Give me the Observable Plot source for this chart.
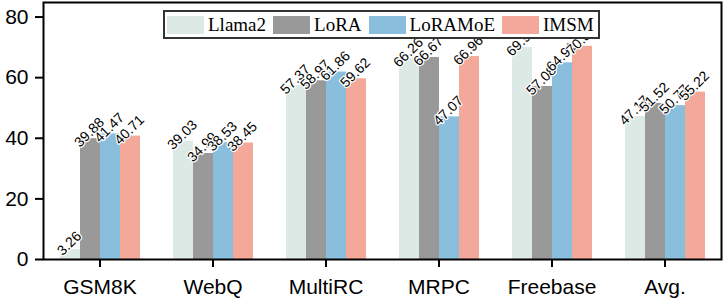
<!DOCTYPE html>
<html>
<head>
<meta charset="utf-8">
<script src="https://cdn.jsdelivr.net/npm/d3@7"></script>
<script src="https://cdn.jsdelivr.net/npm/@observablehq/plot@0.6"></script>
<style>
  html, body { margin: 0; padding: 0; background: #fff; }
  #wrap { position: relative; width: 727px; height: 303px; }
  #legend {
    position: absolute; left: 163px; top: 10px; box-sizing: border-box; height: 29px;
    border: 2.5px solid #333; background: #fff; display: flex; align-items: center;
    padding: 0 4px 0 2px; gap: 7px;
    font-family: "Liberation Serif", serif; font-size: 19px; font-weight: normal; color: #000;
  }
  #legend .item { display: flex; align-items: center; }
  #legend .sw { width: 37px; height: 18px; margin-right: 4px; }
</style>
</head>
<body>
<div id="wrap"></div>
<script>
const categories = ["GSM8K", "WebQ", "MultiRC", "MRPC", "Freebase", "Avg."];
const models = ["Llama2", "LoRA", "LoRAMoE", "IMSM"];
const llama2 = [3.26, 39.03, 57.37, 66.26, 69.94, 47.17];
const lora = [39.88, 34.99, 58.97, 66.67, 57.08, 51.52];
const loramoe = [41.47, 38.53, 61.86, 47.07, 64.91, 50.77];
const imsm = [40.71, 38.45, 59.62, 66.96, 70.37, 55.22];
const colors = ["#dce9e5", "#999999", "#89bfdd", "#f4a899"];
const yTicks = [0, 20, 40, 60, 80];

const series = [llama2, lora, loramoe, imsm];
const rows = categories.flatMap((c, i) => models.map((m, j) => ({cat: c, model: m, value: series[j][i]})));
const sans = "Liberation Sans";

const chart = Plot.plot({
  width: 727,
  height: 303,
  marginLeft: 40,
  marginRight: 4,
  marginTop: 2,
  marginBottom: 44,
  style: {background: "#fff", color: "#000"},
  fx: {domain: categories, padding: 0, label: null},
  x: {domain: models, paddingInner: 0, paddingOuter: 0.778, axis: null},
  y: {domain: [0, 84.8], label: null},
  color: {domain: models, range: colors},
  marks: [
    Plot.barY(rows, {fx: "cat", x: "model", y: "value", fill: "model"}),
    Plot.text(rows, {
      fx: "cat", x: "model", y: "value", text: d => d.value.toFixed(2),
      rotate: -45, lineAnchor: "bottom", dx: 2, dy: -3,
      fontSize: 14, fontFamily: sans, fill: "#000",
      stroke: "#fff", strokeWidth: 2.5
    }),
    Plot.frame({facet: "super", stroke: "#000", strokeWidth: 2}),
    Plot.axisY({ticks: yTicks, tickSize: 8, tickPadding: 7, fontSize: 21, fontFamily: sans, label: null, strokeWidth: 2}),
    Plot.axisFx({anchor: "bottom", tickSize: 8, tickPadding: 12, fontSize: 21, fontFamily: sans, label: null, strokeWidth: 2})
  ]
});

const wrap = document.getElementById("wrap");
wrap.appendChild(chart);

const legend = document.createElement("div");
legend.id = "legend";
models.forEach((m, j) => {
  const item = document.createElement("div");
  item.className = "item";
  const sw = document.createElement("span");
  sw.className = "sw";
  sw.style.background = colors[j];
  const t = document.createElement("span");
  t.textContent = m;
  item.appendChild(sw);
  item.appendChild(t);
  legend.appendChild(item);
});
wrap.appendChild(legend);
</script>
</body>
</html>
